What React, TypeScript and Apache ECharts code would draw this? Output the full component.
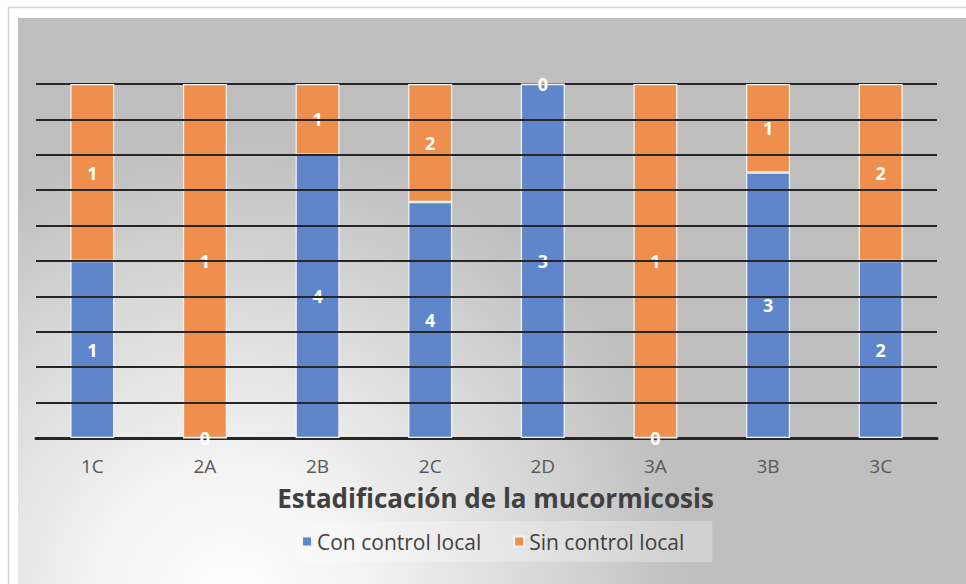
import React, { useEffect, useRef } from "react";
import * as echarts from "echarts";

// Stage of mucormycosis and patient counts by local control status
const categories = ["1C", "2A", "2B", "2C", "2D", "3A", "3B", "3C"];
const conControlLocal = [1, 0, 4, 4, 3, 0, 3, 2];
const sinControlLocal = [1, 1, 1, 2, 0, 1, 1, 2];
const gridLevels = [10, 20, 30, 40, 50, 60, 70, 80, 90];

const FONT = "'Open Sans', 'DejaVu Sans', sans-serif";

function toPercent(part: number[], other: number[]): number[] {
  return part.map((v, i) => {
    const total = v + other[i];
    return total === 0 ? 0 : (v / total) * 100;
  });
}

export default function App() {
  const ref = useRef<HTMLDivElement>(null);

  useEffect(() => {
    if (!ref.current) return;
    const chart = echarts.init(ref.current, undefined, { renderer: "svg" });

    const conPct = toPercent(conControlLocal, sinControlLocal);
    const sinPct = toPercent(sinControlLocal, conControlLocal);

    const segmentLabel = (counts: number[]) => ({
      show: true,
      position: "inside" as const,
      color: "#ffffff",
      fontFamily: FONT,
      fontWeight: "bold" as const,
      fontSize: 18,
      formatter: (p: any) => String(counts[p.dataIndex]),
    });

    chart.setOption({
      animation: false,
      graphic: [
        {
          type: "rect",
          shape: { x: 8.5, y: 7.5, width: 980, height: 600 },
          style: { fill: "#ffffff", stroke: "#d4d4d4", lineWidth: 1.5 },
          z: -10,
        },
        {
          type: "rect",
          shape: { x: 18, y: 18, width: 960, height: 580 },
          style: {
            fill: {
              type: "radial",
              x: 230,
              y: 600,
              r: 460,
              global: true,
              colorStops: [
                { offset: 0, color: "#ffffff" },
                { offset: 0.3, color: "#f3f3f3" },
                { offset: 0.68, color: "#d8d8d8" },
                { offset: 1, color: "#bfbfbf" },
              ],
            },
          },
          z: -9,
        },
      ],
      grid: { left: 36, right: 29, top: 84, bottom: 146 },
      legend: {
        data: ["Con control local", "Sin control local"],
        left: 295,
        top: 521,
        padding: [10, 28, 10, 6],
        backgroundColor: "rgba(255,255,255,0.28)",
        icon: "rect",
        itemWidth: 10,
        itemHeight: 10,
        itemGap: 32,
        textStyle: { color: "#404040", fontFamily: FONT, fontSize: 21 },
      },
      xAxis: {
        type: "category",
        data: categories,
        name: "Estadificación de la mucormicosis",
        nameLocation: "middle",
        nameGap: 47,
        nameTextStyle: {
          color: "#404040",
          fontFamily: FONT,
          fontWeight: "bold",
          fontSize: 26,
          padding: [0, 0, 0, 18],
        },
        axisLine: { show: true, lineStyle: { color: "#262626", width: 3 } },
        axisTick: { show: false },
        axisLabel: {
          color: "#595959",
          fontFamily: FONT,
          fontSize: 19,
          margin: 18,
        },
      },
      yAxis: {
        type: "value",
        min: 0,
        max: 100,
        interval: 10,
        axisLabel: { show: false },
        axisLine: { show: false },
        axisTick: { show: false },
        splitLine: { show: true, lineStyle: { color: "#262626", width: 2 } },
      },
      series: [
        {
          name: "Con control local",
          type: "bar",
          stack: "total",
          barWidth: "39%",
          data: conPct,
          itemStyle: { color: "#5f86cb", borderColor: "#f4f4f4", borderWidth: 1.2 },
          label: segmentLabel(conControlLocal),
        },
        {
          name: "Sin control local",
          type: "bar",
          stack: "total",
          barWidth: "39%",
          data: sinPct,
          itemStyle: { color: "#ee8f4e", borderColor: "#f4f4f4", borderWidth: 1.2 },
          label: segmentLabel(sinControlLocal),
        },
        {
          name: "grid-overlay",
          type: "line",
          data: [],
          z: 10,
          silent: true,
          markLine: {
            silent: true,
            symbol: "none",
            label: { show: false },
            lineStyle: { color: "#262626", width: 2, type: "solid" },
            data: gridLevels.map((v) => ({ yAxis: v })),
          },
        },
      ],
    });

    return () => chart.dispose();
  }, []);

  return (
    <div
      ref={ref}
      style={{ position: "absolute", left: 0, top: 0, width: 966, height: 584 }}
    />
  );
}
